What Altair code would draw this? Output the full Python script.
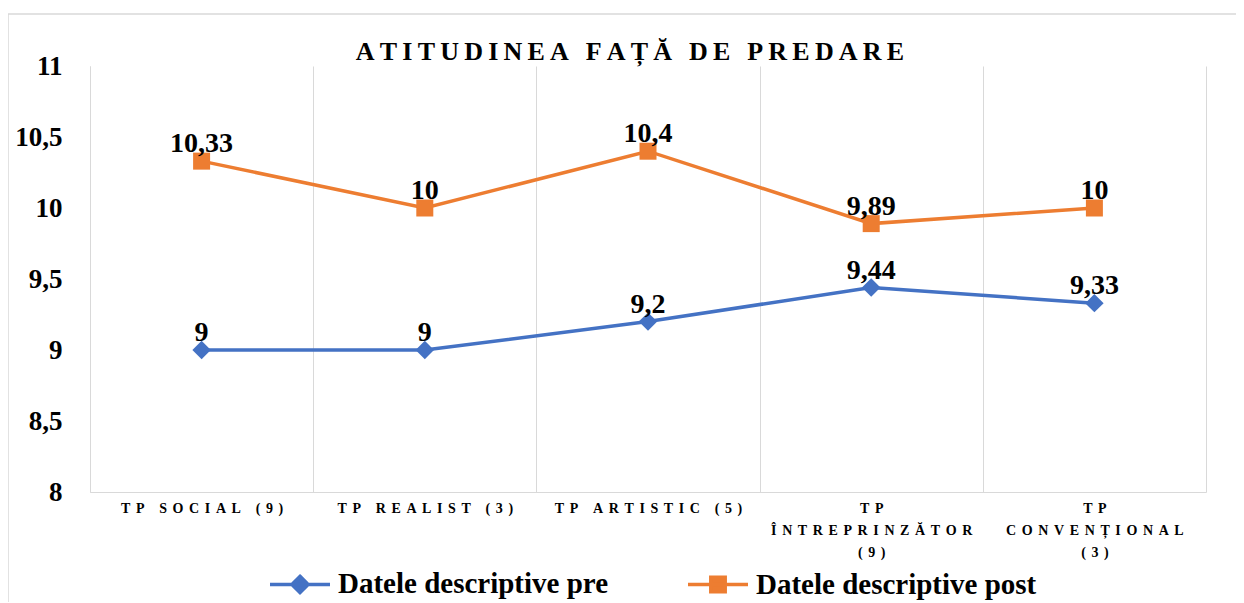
import altair as alt
import pandas as pd

categories = ["TP SOCIAL (9)", "TP REALIST (3)", "TP ARTISTIC (5)",
              "TP\nÎNTREPRINZĂTOR\n(9)", "TP\nCONVENȚIONAL\n(3)"]
series_names = ["Datele descriptive pre", "Datele descriptive post"]
pre_values = [9, 9, 9.2, 9.44, 9.33]
post_values = [10.33, 10, 10.4, 9.89, 10]
y_ticks = [8, 8.5, 9, 9.5, 10, 10.5, 11]
colors = ["#4472C4", "#ED7D31"]
title_text = "ATITUDINEA FAȚĂ DE PREDARE"

SP = "\u2009"
SP_LAB = "\u2009\u2009"


def spaced(s, sp, word_extra=""):
    out = []
    for line in s.split("\n"):
        words = [sp.join(list(w)) for w in line.split(" ")]
        out.append((sp + " " + word_extra + sp).join(words))
    return "\n".join(out)


cat_labels = [spaced(c, SP_LAB) for c in categories]

rows = []
for i, c in enumerate(cat_labels):
    rows.append({"cat": c, "series": series_names[0], "value": pre_values[i]})
    rows.append({"cat": c, "series": series_names[1], "value": post_values[i]})
df = pd.DataFrame(rows)

FONT = "Liberation Serif"

pre_sym = "M-1,0H1M0,-0.27L0.27,0L0,0.27L-0.27,0Z"
post_sym = "M-1,0H1M-0.24,-0.24H0.24V0.24H-0.24Z"
is_pre = f"datum.value == '{series_names[0]}'"

legend = alt.Legend(
    title=None, orient="none", legendX=178, legendY=486, direction="horizontal",
    labelFont=FONT, labelFontSize=29, labelFontWeight="bold", labelColor="black",
    symbolSize=3600, symbolStrokeWidth=3.5, labelOffset=6, columnPadding=72,
    labelLimit=0, symbolOpacity=1,
    symbolType=alt.ExprRef(expr=f"{is_pre} ? '{pre_sym}' : '{post_sym}'"),
    symbolFillColor=alt.ExprRef(expr=f"{is_pre} ? '{colors[0]}' : '{colors[1]}'"),
    symbolStrokeColor=alt.ExprRef(expr=f"{is_pre} ? '{colors[0]}' : '{colors[1]}'"),
)

x_enc = alt.X("cat:N", sort=cat_labels,
              scale=alt.Scale(paddingInner=0, paddingOuter=0),
              axis=alt.Axis(title=None, labelExpr="split(datum.label, '\\n')",
                            labelFont=FONT, labelFontSize=14, labelFontWeight="bold",
                            labelColor="black", labelAngle=0, labelLimit=0,
                            labelPadding=9, labelLineHeight=22, labelBaseline="top",
                            ticks=False, grid=True, gridColor="#D9D9D9", gridWidth=1,
                            tickBand="extent", domainColor="#D9D9D9", domainWidth=1,
                            labelOverlap=False))
y_enc = alt.Y("value:Q", scale=alt.Scale(domain=[8, 11], nice=False, zero=False),
              axis=alt.Axis(title=None, values=y_ticks, grid=False, ticks=False,
                            labelFont=FONT, labelFontSize=27, labelFontWeight="bold",
                            labelColor="black", labelPadding=28,
                            labelExpr="replace(toString(datum.value), '.', ',')",
                            domainColor="#D9D9D9", domainWidth=1))
color_enc = alt.Color("series:N", sort=series_names,
                      scale=alt.Scale(domain=series_names, range=colors), legend=legend)

base = alt.Chart(df)

lines = base.mark_line(strokeWidth=3.5).encode(x=x_enc, y=y_enc, color=color_enc)
points_pre = base.transform_filter(alt.datum.series == series_names[0]).mark_point(
    filled=True, opacity=1, shape="diamond", size=340).encode(x=x_enc, y=y_enc, color=color_enc)
points_post = base.transform_filter(alt.datum.series == series_names[1]).mark_point(
    filled=True, opacity=1, shape="square", size=289).encode(x=x_enc, y=y_enc, color=color_enc)
labels = base.transform_calculate(
    lab="replace(toString(datum.value), '.', ',')"
).mark_text(font=FONT, fontSize=28, fontWeight="bold", color="black",
            baseline="alphabetic", dy=-9).encode(x=x_enc, y=y_enc, text="lab:N")

border = alt.Chart(alt.Data(values=[{}])).mark_rect(
    fill=None, stroke="#D9D9D9", strokeWidth=1.5).encode(
    x=alt.value(-82), x2=alt.value(1180), y=alt.value(-52), y2=alt.value(600))

title = alt.Chart(alt.Data(values=[{"t": spaced(title_text, SP)}])).mark_text(
    font=FONT, fontSize=26, fontWeight="bold", color="black", align="center",
    baseline="middle").encode(x=alt.value(540), y=alt.value(-14), text="t:N")

chart = alt.layer(border, title, lines, points_pre, points_post, labels).properties(
    width=1116, height=426,
    autosize=alt.AutoSizeParams(type="none"),
    padding={"left": 82, "top": 58, "right": 30, "bottom": 110},
).configure_view(stroke=None)

chart.save("out.html", embed_options={"renderer": "svg", "actions": False})
